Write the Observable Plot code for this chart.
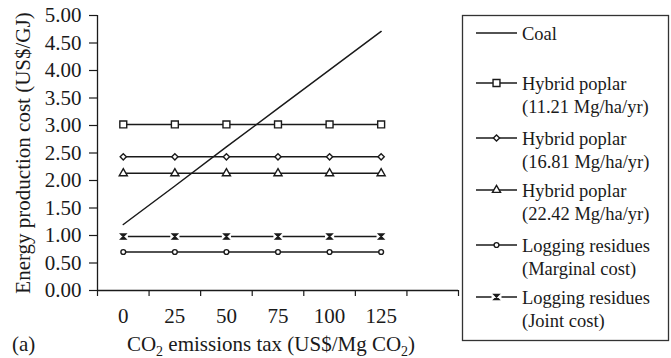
<!DOCTYPE html>
<html>
<head>
<meta charset="utf-8">
<script src="https://cdn.jsdelivr.net/npm/d3@7"></script>
<script src="https://cdn.jsdelivr.net/npm/@observablehq/plot@0.6"></script>
<style>
  html, body { margin: 0; padding: 0; background: #fff; }
  #chart { position: relative; width: 671px; height: 358px; }
</style>
</head>
<body>
<div id="chart"></div>
<script>
// ---- Data ----
const taxes = [0, 25, 50, 75, 100, 125];
const xCategoryEdges = [-12.5, 12.5, 37.5, 62.5, 87.5, 112.5, 137.5, 162.5];
const yTicks = [0, 0.5, 1, 1.5, 2, 2.5, 3, 3.5, 4, 4.5, 5];

const coal            = [1.20, 1.90, 2.61, 3.31, 4.01, 4.71];
const poplar1121      = [3.02, 3.02, 3.02, 3.02, 3.02, 3.02];
const poplar1681      = [2.43, 2.43, 2.43, 2.43, 2.43, 2.43];
const poplar2242      = [2.13, 2.13, 2.13, 2.13, 2.13, 2.13];
const residueMarginal = [0.70, 0.70, 0.70, 0.70, 0.70, 0.70];
const residueJoint    = [0.98, 0.98, 0.98, 0.98, 0.98, 0.98];

const seriesNames = [
  "Coal",
  "Hybrid poplar (11.21 Mg/ha/yr)",
  "Hybrid poplar (16.81 Mg/ha/yr)",
  "Hybrid poplar (22.42 Mg/ha/yr)",
  "Logging residues (Marginal cost)",
  "Logging residues (Joint cost)"
];
const legendLines = [
  ["Coal"],
  ["Hybrid poplar", "(11.21 Mg/ha/yr)"],
  ["Hybrid poplar", "(16.81 Mg/ha/yr)"],
  ["Hybrid poplar", "(22.42 Mg/ha/yr)"],
  ["Logging residues", "(Marginal cost)"],
  ["Logging residues", "(Joint cost)"]
];
const seriesValues = [coal, poplar1121, poplar1681, poplar2242, residueMarginal, residueJoint];

// ---- Styling ----
const ink = "#1a1a1a";
const hourglass = {
  draw(context, size) {
    const r = Math.sqrt(size) / 2;
    context.moveTo(-r, -r);
    context.lineTo(r, -r);
    context.lineTo(-r, r);
    context.lineTo(r, r);
    context.closePath();
  }
};
const markerStyle = [
  null,
  {symbol: "square", d3sym: d3.symbolSquare, r: 3.9, fill: "white"},
  {symbol: "diamond2", d3sym: d3.symbolDiamond2, r: 2.8, fill: "white"},
  {symbol: "triangle", d3sym: d3.symbolTriangle, r: 3.0, fill: "white"},
  {symbol: "circle", d3sym: d3.symbolCircle, r: 2.4, fill: "white"},
  {symbol: hourglass, d3sym: hourglass, r: 2.9, fill: ink, gap: true}
];

const rows = [];
seriesNames.forEach((name, i) => {
  taxes.forEach((t, j) => rows.push({series: name, idx: i, tax: t, value: seriesValues[i][j]}));
});

const markerMarks = [];
seriesNames.forEach((name, i) => {
  const m = markerStyle[i];
  if (!m) return;
  const data = rows.filter(d => d.idx === i);
  if (m.gap) {
    markerMarks.push(Plot.dot(data, {x: "tax", y: "value", symbol: "square", r: 5.2, fill: "white", stroke: "none"}));
  }
  markerMarks.push(Plot.dot(data, {x: "tax", y: "value", symbol: m.symbol, r: m.r, fill: m.fill, stroke: ink, strokeWidth: 1.4}));
});

const chart = Plot.plot({
  width: 671,
  height: 358,
  marginLeft: 97,
  marginRight: 213,
  marginTop: 15,
  marginBottom: 68,
  style: {fontFamily: "'Liberation Serif', 'Times New Roman', serif", fontSize: "21px", color: ink, background: "white"},
  x: {domain: [-12.5, 162.5]},
  y: {domain: [0, 5]},
  marks: [
    Plot.axisY({ticks: yTicks, tickFormat: d => d.toFixed(2), tickSize: 8, tickPadding: 8,
      label: "Energy production cost (US$/GJ)", labelAnchor: "center", labelOffset: 82, labelArrow: "none",
      fontSize: 21, stroke: ink, strokeWidth: 1.2}),
    Plot.axisX({ticks: xCategoryEdges, tickFormat: () => "", tickSize: 6, label: null, stroke: ink, strokeWidth: 1.2}),
    Plot.axisX({ticks: taxes, tickSize: 0, tickPadding: 18, label: null, fontSize: 21}),
    Plot.ruleX([-12.5], {stroke: ink, strokeWidth: 1.3}),
    Plot.ruleY([0], {stroke: ink, strokeWidth: 1.3}),
    Plot.line(rows, {x: "tax", y: "value", z: "series", stroke: ink, strokeWidth: 1.5}),
    ...markerMarks
  ]
});
document.getElementById("chart").appendChild(chart);

// ---- Titles and legend drawn into the same SVG ----
const svg = d3.select(chart);
const ff = "'Liberation Serif', 'Times New Roman', serif";

const xt = svg.append("text")
  .attr("x", 271).attr("y", 351)
  .attr("text-anchor", "middle")
  .attr("font-family", ff).attr("font-size", 21).attr("fill", ink);
xt.append("tspan").text("CO");
xt.append("tspan").attr("font-size", 14).attr("dy", 5).text("2");
xt.append("tspan").attr("dy", -5).text(" emissions tax (US$/Mg CO");
xt.append("tspan").attr("font-size", 14).attr("dy", 5).text("2");
xt.append("tspan").attr("dy", -5).text(")");

svg.append("text").attr("x", 12).attr("y", 351).attr("text-anchor", "start")
  .attr("font-family", ff).attr("font-size", 21).attr("fill", ink).text("(a)");

// Legend
const lg = svg.append("g").attr("text-anchor", "start");
lg.append("rect").attr("x", 462.5).attr("y", 15.5).attr("width", 206).attr("height", 325)
  .attr("fill", "white").attr("stroke", "#333").attr("stroke-width", 1.3);
const entryY = [33, 83, 138, 190, 245, 297];
legendLines.forEach((lines, i) => {
  const y = entryY[i];
  const g = lg.append("g");
  g.append("line").attr("x1", 476).attr("x2", 517).attr("y1", y).attr("y2", y)
    .attr("stroke", ink).attr("stroke-width", 1.5);
  const m = markerStyle[i];
  if (m) {
    const size = m.r * m.r * Math.PI;
    if (m.gap) {
      g.append("rect").attr("x", 496.5 - 5).attr("y", y - 4).attr("width", 10).attr("height", 8).attr("fill", "white");
    }
    g.append("path").attr("d", d3.symbol(m.d3sym, size)()).attr("transform", `translate(496.5,${y})`)
      .attr("fill", m.fill).attr("stroke", ink).attr("stroke-width", 1.4);
  }
  lines.forEach((t, k) => {
    g.append("text").attr("x", 522).attr("y", y + 7 + k * 23).attr("text-anchor", "start")
      .attr("font-family", ff).attr("font-size", 18.5).attr("fill", ink).text(t);
  });
});
</script>
</body>
</html>
